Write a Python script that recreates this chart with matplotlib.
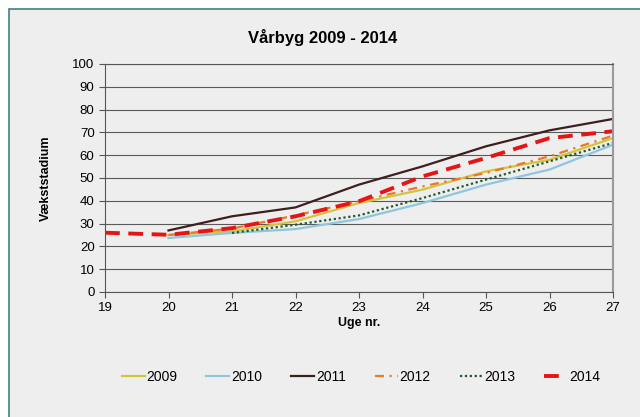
import matplotlib.pyplot as plt
from matplotlib.patches import Rectangle

# Data
weeks = [19, 20, 21, 22, 23, 24, 25, 26, 27]
v2009 = [None, 25, 26.6, 31, 39, 44.9, 52.9, 58, 67.5]
v2010 = [None, 23.7, 25.9, 27.6, 32, 39, 47.1, 53.7, 64.6]
v2011 = [None, 27, 33.2, 37.1, 47.1, 55.1, 63.9, 70.9, 75.9]
v2012 = [None, 25, 27.8, 33.6, 39.8, 46.3, 52.2, 59.5, 68.6]
v2013 = [None, None, 25.9, 29.5, 33.6, 41.2, 49.3, 57.3, 65.4]
v2014 = [26, 25.1, 28, 33.2, 39.8, 50.7, 58.8, 67.5, 70.5]

yticks = list(range(0, 101, 10))


def clean(vals):
    # None -> NaN so the line just starts later
    return [float("nan") if v is None else v for v in vals]


plt.rcParams["font.family"] = ["Liberation Sans", "DejaVu Sans"]

fig = plt.figure(figsize=(6.4, 4.17), dpi=100, facecolor="white")
# grey chart background with the thin teal border
fig.patches.append(Rectangle((9 / 640, -0.02), 1.05, 1 - 9 / 417 + 0.02,
                             transform=fig.transFigure, facecolor="#eeeeee",
                             edgecolor="#3f7f8a", linewidth=1.2, zorder=-1))

ax = fig.add_axes([105 / 640, 1 - 292 / 417, 508 / 640, 228 / 417])
ax.set_facecolor("#eeeeee")

ax.plot(weeks, clean(v2009), color="#d4c43c", linewidth=1.6, label="2009")
ax.plot(weeks, clean(v2010), color="#8ec6de", linewidth=1.6, label="2010")
ax.plot(weeks, clean(v2011), color="#3d1f1f", linewidth=1.6, label="2011")
ax.plot(weeks, clean(v2012), color="#e8792a", linewidth=1.6, dashes=(4, 2.5, 1, 2.5), label="2012")
ax.plot(weeks, clean(v2013), color="#1d5a32", linewidth=1.6, dashes=(1, 1.2), label="2013")
ax.plot(weeks, clean(v2014), color="#e61414", linewidth=2.8, dashes=(3.8, 2.2), label="2014")

ax.set_xlim(19, 27)
ax.set_ylim(0, 100)
ax.set_xticks(weeks)
ax.set_yticks(yticks)
ax.tick_params(axis="both", labelsize=9.5, length=4, width=0.8, color="#555555")
ax.grid(axis="y", color="#5a5a5a", linewidth=0.8)
ax.set_axisbelow(True)

for side in ["left", "bottom", "top"]:
    ax.spines[side].set_color("#555555")
    ax.spines[side].set_linewidth(0.8)
ax.spines["right"].set_color("#9a9a9a")
ax.spines["right"].set_linewidth(1.5)

ax.set_xlabel("Uge nr.", fontsize=9, fontweight="bold", labelpad=2)
ax.set_ylabel("Vækststadium", fontsize=9, fontweight="bold", labelpad=15)
fig.text(323 / 640, 1 - 38 / 417, "Vårbyg 2009 - 2014", fontsize=12,
         fontweight="bold", ha="center", va="center")

fig.legend(loc="center", bbox_to_anchor=(361 / 640, 1 - 377 / 417), ncol=6,
           frameon=False, fontsize=10, handlelength=1.65, handletextpad=0.15,
           columnspacing=2.07)

fig.savefig("out.png", dpi=100, facecolor=fig.get_facecolor())
